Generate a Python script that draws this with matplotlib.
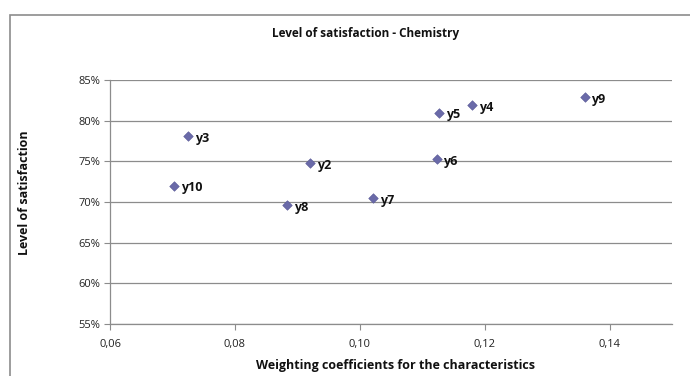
import matplotlib
matplotlib.use("Agg")
import matplotlib.pyplot as plt
from matplotlib.ticker import FuncFormatter, FixedLocator
from matplotlib.patches import Rectangle

labels = ["y2", "y3", "y4", "y5", "y6", "y7", "y8", "y9", "y10"]
weights = [0.0921, 0.0725, 0.1180, 0.1127, 0.1123, 0.1021, 0.0883, 0.1360, 0.0702]
satisfaction = [0.7475, 0.781, 0.819, 0.810, 0.7525, 0.705, 0.696, 0.829, 0.720]
x_ticks = [0.06, 0.08, 0.10, 0.12, 0.14]
y_ticks = [0.55, 0.60, 0.65, 0.70, 0.75, 0.80, 0.85]

plt.rcParams['font.family'] = ['Open Sans', 'DejaVu Sans']

fig = plt.figure(figsize=(6.9, 3.76), dpi=100)
fig.patch.set_facecolor("white")

# chart-area border (extends beyond image on right/bottom)
fig.patches.append(Rectangle((9.5 / 690, -0.1), 1.2, 1 - 14.5 / 376 + 0.1,
                             transform=fig.transFigure, fill=False,
                             edgecolor="#8c8c8c", linewidth=1.2))

ax = fig.add_axes([110 / 690, 52 / 376, 562 / 690, 244 / 376])
ax.scatter(weights, satisfaction, marker="D", s=24, color="#6a6aa8",
           edgecolors="#5a5a98", linewidths=0.4, zorder=3)
for lab, xv, yv in zip(labels, weights, satisfaction):
    ax.annotate(lab, (xv, yv), xytext=(5, -1.5), textcoords="offset points",
                fontsize=9, fontweight="bold", va="center", ha="left", color="#111111")

ax.set_xlim(0.06, 0.15)
ax.set_ylim(0.55, 0.85)
ax.xaxis.set_major_locator(FixedLocator(x_ticks))
ax.yaxis.set_major_locator(FixedLocator(y_ticks))
ax.xaxis.set_major_formatter(FuncFormatter(lambda v, p: f"{v:.2f}".replace(".", ",")))
ax.yaxis.set_major_formatter(FuncFormatter(lambda v, p: f"{round(v * 100):d}%"))

ax.grid(axis="y", color="#8c8c8c", linewidth=0.9)
ax.set_axisbelow(True)
for side in ["top", "right"]:
    ax.spines[side].set_visible(False)
for side in ["left", "bottom"]:
    ax.spines[side].set_color("#8c8c8c")
    ax.spines[side].set_linewidth(0.9)
ax.tick_params(axis="both", colors="#8c8c8c", labelcolor="#222222",
               labelsize=8, length=4, width=0.8)
ax.tick_params(axis="x", pad=7)
ax.tick_params(axis="y", pad=3)

fig.text(366 / 690, 1 - 34 / 376, "Level of satisfaction - Chemistry",
         ha="center", va="center", fontsize=8.5, fontweight="bold", color="#111111")
fig.text(395 / 690, 1 - 366 / 376, "Weighting coefficients for the characteristics",
         ha="center", va="center", fontsize=9, fontweight="bold", color="#111111")
fig.text(25 / 690, 1 - 193 / 376, "Level of satisfaction", rotation=90,
         ha="center", va="center", fontsize=9, fontweight="bold", color="#111111")

fig.savefig("out.png", dpi=100, facecolor="white")
